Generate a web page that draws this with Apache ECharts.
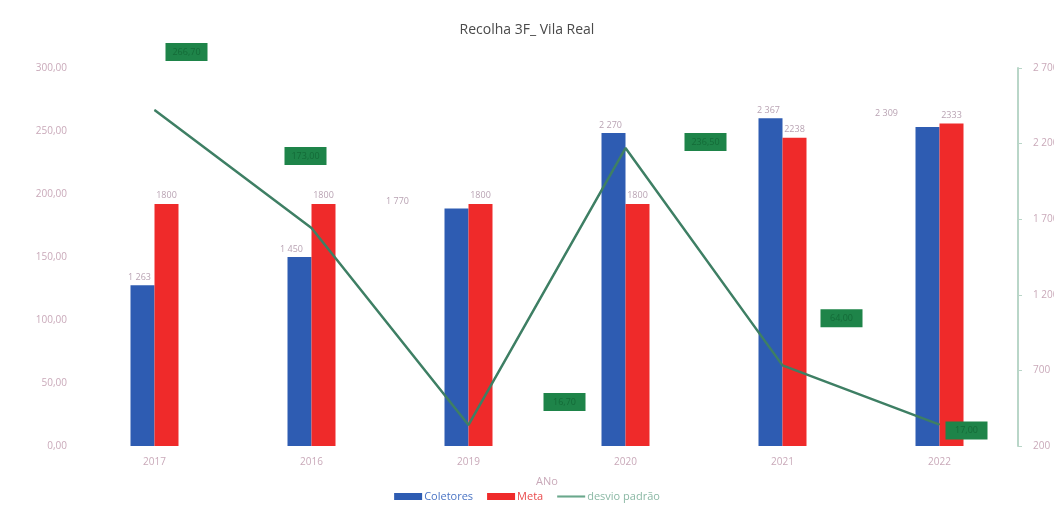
<!DOCTYPE html>
<html>
<head>
    <meta charset="utf-8">
    <title>Recolha 3F_ Vila Real</title>
    <script src="https://cdn.jsdelivr.net/npm/echarts@6/dist/echarts.min.js"></script>
    <style>
        html, body { margin: 0; padding: 0; background: #fff; }
        #main { width: 1054px; height: 510px; }
    </style>
</head>
<body>
    <div id="main"></div>
    <script>
        // dados
        var anos = ['2017', '2016', '2019', '2020', '2021', '2022'];
        var coletores = [1263, 1450, 1770, 2270, 2367, 2309];
        var meta = [1800, 1800, 1800, 1800, 2238, 2333];
        var desvio = [266.7, 173.0, 16.7, 236.5, 64.0, 17.0];
        var eixoEsqTicks = [0, 50, 100, 150, 200, 250, 300];
        var eixoDirTicks = [200, 700, 1200, 1700, 2200, 2700];

        // deslocamentos das etiquetas (como no excel, meio tortas)
        var offColetores = [[-3, 0], [-8, 0], [-59, 0], [-3, 0], [-2, 0], [-41, -6]];
        var offDesvio = [[32, -58], [-6, -72], [96, -23], [80, -6], [59, -47], [27, 6]];

        var corEixo = '#c9a9b9';
        var fonte = '"Open Sans", "Noto Sans", sans-serif';

        function milhar(v) {
            var s = String(Math.round(v));
            return s.replace(/\B(?=(\d{3})+(?!\d))/g, ' ');
        }

        var chart = echarts.init(document.getElementById('main'));

        var option = {
            animation: false,
            textStyle: { fontFamily: fonte },
            title: {
                text: 'Recolha 3F_ Vila Real',
                left: 'center',
                top: 18,
                textStyle: { fontSize: 14, fontWeight: 'normal', color: '#4a4a4a', fontFamily: fonte }
            },
            legend: {
                bottom: 3,
                left: 'center',
                itemWidth: 28,
                itemHeight: 7,
                itemGap: 14,
                icon: 'rect',
                textStyle: { fontSize: 11, padding: [0, 0, 0, -3] },
                data: [
                    { name: 'Coletores', textStyle: { color: '#4a74c4' } },
                    { name: 'Meta', textStyle: { color: '#ea4a4c' } },
                    {
                        name: 'desvio padrão',
                        icon: 'path://M0,0 L40,0 L40,3 L0,3 Z',
                        itemStyle: { color: '#6aa88c' },
                        textStyle: { color: '#8ab8a4' }
                    }
                ]
            },
            grid: { left: 76, right: 36, top: 68, bottom: 64, outerBoundsMode: 'none' },
            xAxis: {
                type: 'category',
                data: anos,
                name: 'ANo',
                nameLocation: 'middle',
                nameGap: 30,
                nameTextStyle: { color: corEixo, fontSize: 11 },
                axisLine: { show: false },
                axisTick: { show: false },
                axisLabel: { color: corEixo, fontSize: 10, margin: 11 }
            },
            yAxis: [{
                type: 'value',
                min: eixoEsqTicks[0],
                max: eixoEsqTicks[eixoEsqTicks.length - 1],
                interval: 50,
                axisLine: { show: false },
                axisTick: { show: false },
                splitLine: { show: false },
                axisLabel: {
                    color: corEixo,
                    fontSize: 10,
                    margin: 9,
                    formatter: function (v) { return v.toFixed(2).replace('.', ','); }
                }
            }, {
                type: 'value',
                min: eixoDirTicks[0],
                max: eixoDirTicks[eixoDirTicks.length - 1],
                interval: 500,
                position: 'right',
                axisLine: { show: true, lineStyle: { color: '#b9d6c8', width: 2 } },
                axisTick: { show: true, length: 4, lineStyle: { color: '#b9d6c8' } },
                splitLine: { show: false },
                axisLabel: {
                    color: corEixo,
                    fontSize: 10,
                    margin: 15,
                    formatter: function (v) { return milhar(v); }
                }
            }],
            series: [{
                name: 'Coletores',
                type: 'bar',
                yAxisIndex: 1,
                barWidth: 24,
                barGap: '0%',
                itemStyle: { color: '#2e5cb2' },
                data: coletores.map(function (v, i) {
                    return {
                        value: v,
                        label: { offset: offColetores[i] }
                    };
                }),
                label: {
                    show: true,
                    position: 'top',
                    distance: 3,
                    fontSize: 9,
                    color: '#b9a3b3',
                    formatter: function (p) { return milhar(p.value); }
                }
            }, {
                name: 'Meta',
                type: 'bar',
                yAxisIndex: 1,
                barWidth: 24,
                barGap: '0%',
                itemStyle: { color: '#ef2a2a' },
                data: meta,
                label: {
                    show: true,
                    position: 'top',
                    distance: 4,
                    fontSize: 9,
                    color: '#b9a3b3'
                }
            }, {
                name: 'desvio padrão',
                type: 'line',
                yAxisIndex: 0,
                symbol: 'circle',
                symbolSize: 1,
                showSymbol: true,
                z: 5,
                lineStyle: { color: '#3e7f64', width: 2.5 },
                itemStyle: { color: '#3e7f64' },
                data: desvio.map(function (v, i) {
                    return {
                        value: v,
                        label: { offset: offDesvio[i] }
                    };
                }),
                label: {
                    show: true,
                    position: 'inside',
                    fontSize: 9,
                    color: '#146b38',
                    backgroundColor: '#1e8449',
                    width: 36,
                    height: 12,
                    align: 'center',
                    verticalAlign: 'middle',
                    padding: [3, 3],
                    formatter: function (p) { return p.value.toFixed(2).replace('.', ','); }
                }
            }]
        };

        chart.setOption(option);
    </script>
</body>
</html>
